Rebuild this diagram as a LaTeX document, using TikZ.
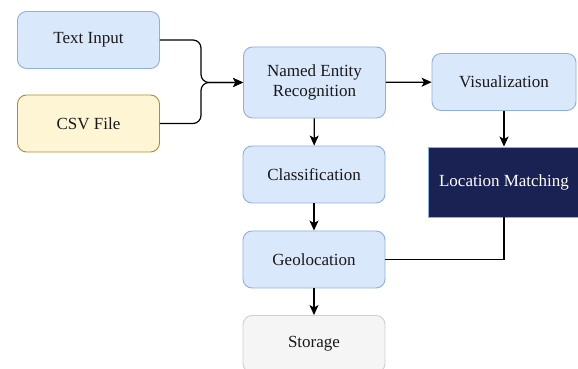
\documentclass[tikz,border=0pt]{standalone}
\usepackage{fontspec}
\setmainfont{Liberation Serif}
\usetikzlibrary{arrows.meta}

\definecolor{boxblue}{HTML}{DAE8FC}
\definecolor{lineblue}{HTML}{8EAFE0}
\definecolor{boxyellow}{HTML}{FDF5D4}
\definecolor{lineyellow}{HTML}{A8912A}
\definecolor{boxgray}{HTML}{F5F5F5}
\definecolor{linegray}{HTML}{CFCFCF}
\definecolor{boxnavy}{HTML}{1A2254}

\begin{document}
\begin{tikzpicture}[x=1pt,y=1pt,
  font=\fontsize{17}{19.5}\selectfont,
  stepbox/.style={draw=lineblue, fill=boxblue, rounded corners=9pt, line width=0.9pt,
    minimum width=142pt, minimum height=57pt, align=center, text=black!90},
  arrow/.style={line width=1.2pt, -{Stealth[length=10pt,width=9pt,inset=2.5pt]}}]
  \useasboundingbox (0,0) rectangle (578,369);

  \node[stepbox] (input) at (88.5,329) {Text Input};
  \node[stepbox, draw=lineyellow, fill=boxyellow] (csv) at (88.5,245.5) {CSV File};
  \node[stepbox, minimum height=71pt] (ner) at (314.5,286.5) {Named Entity\\Recognition};
  \node[stepbox, minimum width=144pt] (vis) at (504,287) {Visualization};
  \node[stepbox, draw=lineblue, fill=boxnavy, text=white, rounded corners=0pt,
    minimum width=152pt, minimum height=70pt] (match) at (504,187) {Location Matching};
  \node[stepbox] (class) at (314,194.5) {Classification};
  \node[stepbox] (geo) at (314,109.5) {Geolocation};
  \node[stepbox, draw=linegray, fill=boxgray] (store) at (314,25) {Storage};

  % inputs join before NER
  \coordinate (join) at (201,286.5);
  \draw[arrow, rounded corners=8pt] (input.east) -| (join) -- (ner.west);
  \draw[arrow, rounded corners=8pt] (csv.east) -| (join) -- (ner.west);

  \draw[arrow] (ner) -- (vis);
  \draw[arrow] (ner) -- (class);
  \draw[arrow] (class) -- (geo);
  \draw[arrow] (geo) -- (store);
  \draw[arrow] (vis) -- (match);
  \draw[line width=1.2pt] (geo.east) -| (match.south);
\end{tikzpicture}
\end{document}
